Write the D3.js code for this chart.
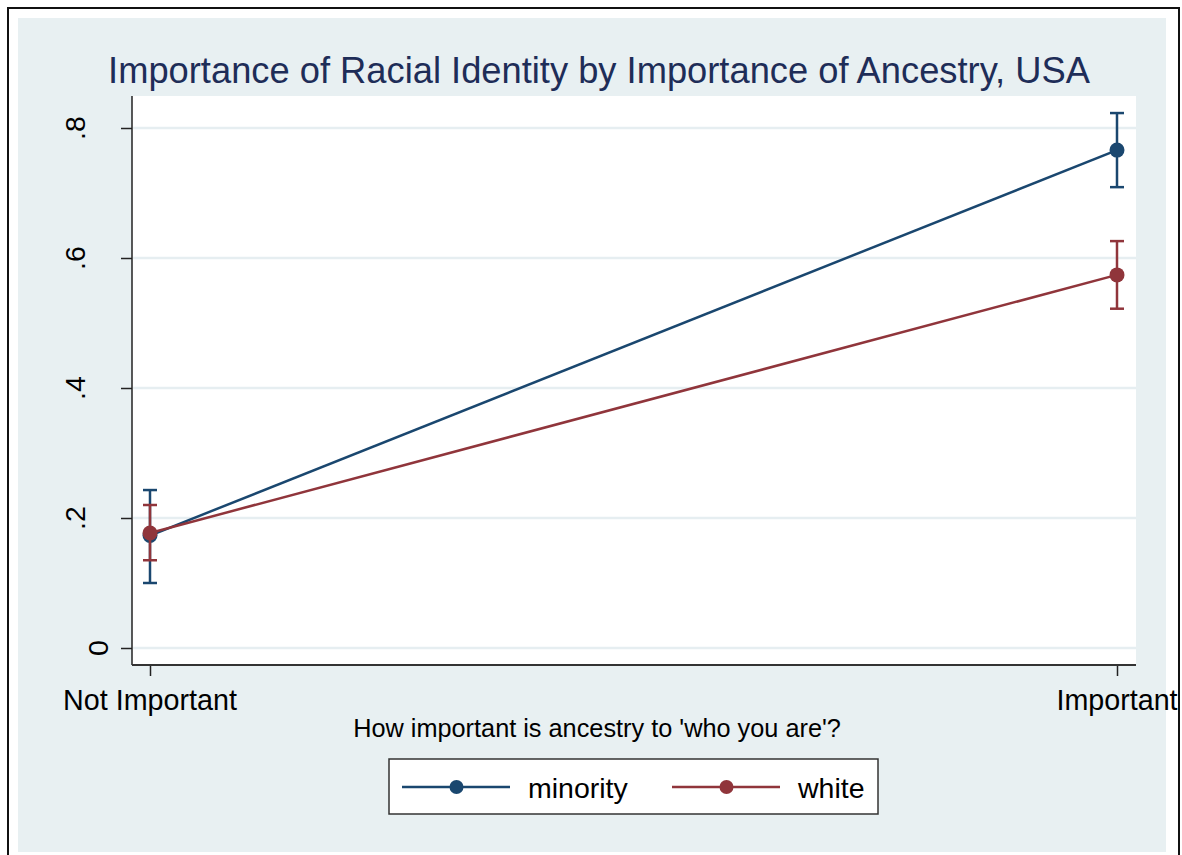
<!DOCTYPE html>
<html>
<head>
<meta charset="utf-8">
<script src="https://cdn.jsdelivr.net/npm/d3@7"></script>
<style>
  html, body { margin: 0; padding: 0; background: #ffffff; }
  svg { display: block; }
  text { font-family: "Liberation Sans", Arial, sans-serif; }
</style>
</head>
<body>
<svg id="chart" width="1182" height="855"></svg>
<script>
// Categories on the x axis
const categories = ["Not Important", "Important"];
// Predicted share and 95% CI for each group
const minorityMean = [0.173, 0.766];
const minorityLow  = [0.100, 0.709];
const minorityHigh = [0.243, 0.823];
const whiteMean = [0.177, 0.574];
const whiteLow  = [0.135, 0.522];
const whiteHigh = [0.220, 0.626];
// Y axis tick values and labels
const yTicks = [0, 0.2, 0.4, 0.6, 0.8];
const yTickLabels = ["0", ".2", ".4", ".6", ".8"];
const seriesNames = ["minority", "white"];

const colors = { minority: "#1a476f", white: "#90353b" };
const bg = "#e8f0f2";
const gridCol = "#e6eef1";

const svg = d3.select("#chart");

// outer frame
svg.append("rect").attr("x", 8).attr("y", 8).attr("width", 1171).attr("height", 860)
  .attr("fill", "#ffffff").attr("stroke", "#111").attr("stroke-width", 2);
// graph region
svg.append("rect").attr("x", 18).attr("y", 18).attr("width", 1148).attr("height", 834)
  .attr("fill", bg);

// plot region
const plot = { left: 132, right: 1136, top: 96, bottom: 665 };
svg.append("rect").attr("x", plot.left).attr("y", plot.top)
  .attr("width", plot.right - plot.left).attr("height", plot.bottom - plot.top)
  .attr("fill", "#ffffff");

const y = d3.scaleLinear().domain([0, 0.8]).range([648, 128]);
const x = d3.scaleLinear().domain([0, categories.length - 1]).range([150, 1117]);

// gridlines
svg.append("g").selectAll("line").data(yTicks).join("line")
  .attr("x1", plot.left + 1).attr("x2", plot.right)
  .attr("y1", d => y(d)).attr("y2", d => y(d))
  .attr("stroke", gridCol).attr("stroke-width", 2.5);

// y axis
const yAxis = d3.axisLeft(y).tickValues(yTicks).tickSize(11).tickFormat("");
const gy = svg.append("g").attr("transform", `translate(${plot.left},0)`).call(yAxis);
gy.select(".domain").remove();
gy.selectAll(".tick line").attr("stroke", "#222").attr("stroke-width", 1.5);
svg.append("line").attr("x1", plot.left).attr("x2", plot.left)
  .attr("y1", plot.top).attr("y2", plot.bottom).attr("stroke", "#222").attr("stroke-width", 1.5);
// rotated tick labels; a bare "0" sits closer to the axis than the ".x" labels
svg.append("g").selectAll("text").data(yTicks).join("text")
  .attr("transform", (d, i) => {
    const bx = yTickLabels[i].startsWith(".") ? 85 : 108;
    return `translate(${bx},${y(d)}) rotate(-90)`;
  })
  .attr("text-anchor", "middle").attr("font-size", 28.5).attr("fill", "#000")
  .text((d, i) => yTickLabels[i]);

// x axis
const xAxis = d3.axisBottom(x).tickValues(d3.range(categories.length)).tickSize(11).tickFormat("");
const gx = svg.append("g").attr("transform", `translate(0,${plot.bottom})`).call(xAxis);
gx.select(".domain").remove();
gx.selectAll(".tick line").attr("stroke", "#222").attr("stroke-width", 1.5);
svg.append("line").attr("x1", plot.left).attr("x2", plot.right)
  .attr("y1", plot.bottom).attr("y2", plot.bottom).attr("stroke", "#333").attr("stroke-width", 2);
svg.append("g").selectAll("text").data(categories).join("text")
  .attr("x", (d, i) => x(i)).attr("y", 710)
  .attr("text-anchor", "middle").attr("font-size", 28.7).attr("fill", "#000")
  .text(d => d);

// axis title
svg.append("text").attr("x", 597).attr("y", 737).attr("text-anchor", "middle")
  .attr("font-size", 25.3).attr("fill", "#000")
  .text("How important is ancestry to 'who you are'?");

// chart title
svg.append("text").attr("x", 599).attr("y", 83).attr("text-anchor", "middle")
  .attr("font-size", 36.3).attr("fill", "#1e2d58")
  .text("Importance of Racial Identity by Importance of Ancestry, USA");

// series
const series = [
  { name: seriesNames[0], mean: minorityMean, lo: minorityLow, hi: minorityHigh, color: colors.minority },
  { name: seriesNames[1], mean: whiteMean, lo: whiteLow, hi: whiteHigh, color: colors.white }
];
const line = d3.line().x((d, i) => x(i)).y(d => y(d));
const capW = 7;
series.forEach(s => {
  const g = svg.append("g");
  const idx = d3.range(s.mean.length);
  g.selectAll("line.ci").data(idx).join("line").attr("class", "ci")
    .attr("x1", i => x(i)).attr("x2", i => x(i))
    .attr("y1", i => y(s.lo[i])).attr("y2", i => y(s.hi[i]))
    .attr("stroke", s.color).attr("stroke-width", 2.5);
  [s.lo, s.hi].forEach(arr => {
    g.selectAll(null).data(idx).join("line")
      .attr("x1", i => x(i) - capW).attr("x2", i => x(i) + capW)
      .attr("y1", i => y(arr[i])).attr("y2", i => y(arr[i]))
      .attr("stroke", s.color).attr("stroke-width", 2.5);
  });
  g.append("path").datum(s.mean).attr("d", line)
    .attr("fill", "none").attr("stroke", s.color).attr("stroke-width", 2.5);
  g.selectAll("circle").data(s.mean).join("circle")
    .attr("cx", (d, i) => x(i)).attr("cy", d => y(d)).attr("r", 7.5)
    .attr("fill", s.color);
});

// legend
const lg = svg.append("g");
lg.append("rect").attr("x", 389).attr("y", 759).attr("width", 489).attr("height", 55)
  .attr("fill", "#ffffff").attr("stroke", "#333").attr("stroke-width", 1.5);
const legendItems = [
  { name: seriesNames[0], color: colors.minority, x0: 402, x1: 510, tx: 528 },
  { name: seriesNames[1], color: colors.white, x0: 672, x1: 780, tx: 798 }
];
legendItems.forEach(it => {
  lg.append("line").attr("x1", it.x0).attr("x2", it.x1).attr("y1", 787).attr("y2", 787)
    .attr("stroke", it.color).attr("stroke-width", 2.5);
  lg.append("circle").attr("cx", (it.x0 + it.x1) / 2 + 0.5).attr("cy", 787).attr("r", 7)
    .attr("fill", it.color);
  lg.append("text").attr("x", it.tx).attr("y", 798).attr("font-size", 28.5).attr("fill", "#000")
    .text(it.name);
});
</script>
</body>
</html>
